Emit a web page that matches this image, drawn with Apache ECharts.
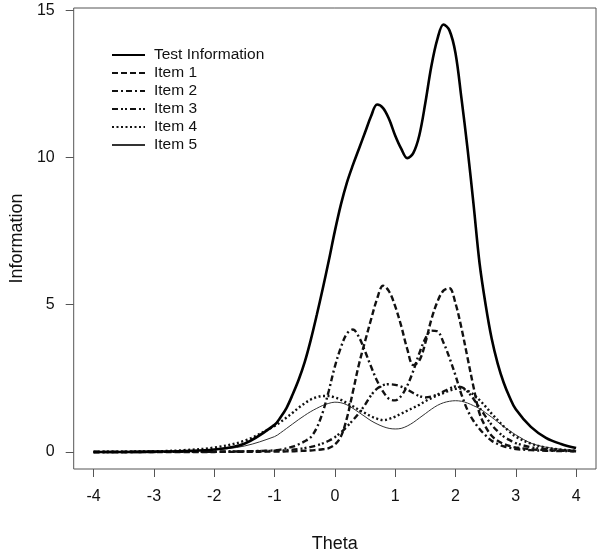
<!DOCTYPE html>
<html>
<head>
<meta charset="utf-8">
<script src="https://cdn.jsdelivr.net/npm/echarts@6/dist/echarts.min.js"></script>
<style>
html,body{margin:0;padding:0;background:#fff;}
#chart{width:600px;height:558px;}
</style>
</head>
<body>
<div id="chart"></div>
<script>
// Theta grid (x values)
const theta = [-4,-3.5,-3,-2.5,-2,-1.5,
  -1,-0.9,-0.8,-0.7,-0.6,-0.5,-0.4,-0.3,-0.2,-0.1,
  0,0.1,0.2,0.3,0.4,0.5,0.6,0.7,0.8,0.9,
  1,1.1,1.2,1.3,1.4,1.5,1.6,1.7,1.8,1.9,
  2,2.1,2.2,2.3,2.4,2.5,2.6,2.7,2.8,2.9,
  3,3.25,3.5,3.75,4];

const testInfo = [0,0,0.01,0.03,0.08,0.28,
  0.92,1.18,1.5,1.95,2.45,3.05,3.8,4.65,5.55,6.5,
  7.5,8.4,9.15,9.75,10.3,10.85,11.4,11.8,11.68,11.3,
  10.75,10.3,9.98,10.15,10.75,11.85,13.1,14.02,14.52,14.32,
  13.55,12.0,10.3,8.4,6.4,5.0,3.85,3.0,2.35,1.85,
  1.45,0.85,0.48,0.27,0.13];

const item1 = [0,0,0,0,0,0.005,
  0.01,0.01,0.02,0.02,0.03,0.04,0.05,0.07,0.09,0.13,
  0.25,0.52,1.15,2.05,2.98,3.75,4.5,5.2,5.65,5.45,
  4.95,4.28,3.5,2.95,3.1,3.7,4.5,5.1,5.48,5.56,
  5.05,4.2,3.2,2.2,1.3,0.85,0.55,0.38,0.27,0.2,
  0.15,0.09,0.06,0.04,0.03];

const item2 = [0,0,0,0.002,0.005,0.02,
  0.05,0.08,0.12,0.18,0.26,0.36,0.5,0.82,1.35,2.08,
  2.9,3.55,4.02,4.16,3.9,3.42,2.9,2.42,2.05,1.8,
  1.75,1.9,2.25,2.75,3.35,3.85,4.12,4.1,3.72,3.2,
  2.6,1.95,1.42,1.05,0.78,0.56,0.38,0.27,0.19,0.14,
  0.1,0.06,0.04,0.03,0.02];

const item3 = [0,0,0.002,0.005,0.01,0.02,
  0.04,0.05,0.06,0.08,0.1,0.13,0.17,0.22,0.29,0.38,
  0.5,0.66,0.86,1.08,1.32,1.6,1.92,2.15,2.27,2.3,
  2.28,2.22,2.12,2.0,1.9,1.85,1.88,1.95,2.05,2.15,
  2.22,2.2,2.05,1.8,1.5,1.2,0.92,0.7,0.52,0.4,
  0.3,0.16,0.09,0.05,0.03];

const item4 = [0,0.01,0.02,0.06,0.15,0.38,
  0.88,1.02,1.17,1.33,1.5,1.65,1.78,1.86,1.9,1.9,
  1.85,1.77,1.66,1.55,1.43,1.32,1.21,1.13,1.08,1.12,
  1.2,1.3,1.4,1.5,1.6,1.72,1.83,1.92,2.0,2.08,
  2.14,2.15,2.08,1.95,1.76,1.54,1.3,1.08,0.87,0.68,
  0.52,0.28,0.15,0.08,0.04];

const item5 = [0,0.005,0.01,0.03,0.07,0.2,
  0.52,0.65,0.8,0.95,1.1,1.24,1.37,1.48,1.58,1.65,
  1.69,1.67,1.6,1.48,1.34,1.2,1.06,0.95,0.86,0.8,
  0.78,0.8,0.88,1.0,1.15,1.3,1.45,1.58,1.67,1.72,
  1.74,1.72,1.66,1.57,1.47,1.33,1.18,1.02,0.86,0.72,
  0.58,0.3,0.16,0.09,0.05];

const xTicks = [-4,-3,-2,-1,0,1,2,3,4];
const yTicks = [0,5,10,15];
const seriesNames = ['Test Information','Item 1','Item 2','Item 3','Item 4','Item 5'];

const FONT = '"Liberation Sans", Arial, Helvetica, sans-serif';
const pairs = arr => theta.map((t,i)=>[t, arr[i]]);

const styles = [
  {width:2.6, type:'solid', color:'#000'},
  {width:2.4, type:[6,3], color:'#111'},
  {width:2.4, type:[6,3,2,3], color:'#111'},
  {width:2.4, type:[6,3,2,2,2,3], color:'#111'},
  {width:2.4, type:[2,2.5], color:'#111'},
  {width:1, type:'solid', color:'#333'}
];
const dataSets = [testInfo,item1,item2,item3,item4,item5];

const chart = echarts.init(document.getElementById('chart'), null, {renderer:'canvas'});
chart.setOption({
  animation:false,
  backgroundColor:'#fff',
  grid:{left:69, right:4, top:8, bottom:86, show:true, borderColor:'#555', borderWidth:1, backgroundColor:'transparent'},
  legend:{
    orient:'vertical', left:106, top:42,
    itemWidth:33, itemHeight:14, itemGap:2,
    data:seriesNames,
    itemStyle:{opacity:0},
    textStyle:{fontFamily:FONT, fontSize:15.5, color:'#111', lineHeight:16, padding:[0,0,0,4]},
    selectedMode:false
  },
  xAxis:{
    type:'value', min:-4.33, max:4.33,
    name:'Theta', nameLocation:'middle', nameGap:66,
    nameTextStyle:{fontFamily:FONT, fontSize:18, color:'#111'},
    axisLine:{show:false, onZero:false},
    axisTick:{show:true, length:8, customValues:xTicks, lineStyle:{color:'#555', width:1}},
    axisLabel:{customValues:xTicks, fontFamily:FONT, fontSize:16, color:'#111', margin:20},
    splitLine:{show:false}
  },
  yAxis:{
    type:'value', min:-0.58, max:15.08,
    name:'Information', nameLocation:'middle', nameGap:46,
    nameTextStyle:{fontFamily:FONT, fontSize:18, color:'#111'},
    axisLine:{show:false, onZero:false},
    axisTick:{show:true, length:8, customValues:yTicks, lineStyle:{color:'#555', width:1}},
    axisLabel:{customValues:yTicks, fontFamily:FONT, fontSize:16, color:'#111', margin:19},
    splitLine:{show:false}
  },
  series: seriesNames.map((n,i)=>({
    name:n, type:'line', data:pairs(dataSets[i]), smooth:0.35,
    symbol:'none', showSymbol:false, z: 10-i,
    itemStyle:{color:styles[i].color},
    lineStyle:{width:styles[i].width, type:styles[i].type, color:styles[i].color}
  }))
});
</script>
</body>
</html>
